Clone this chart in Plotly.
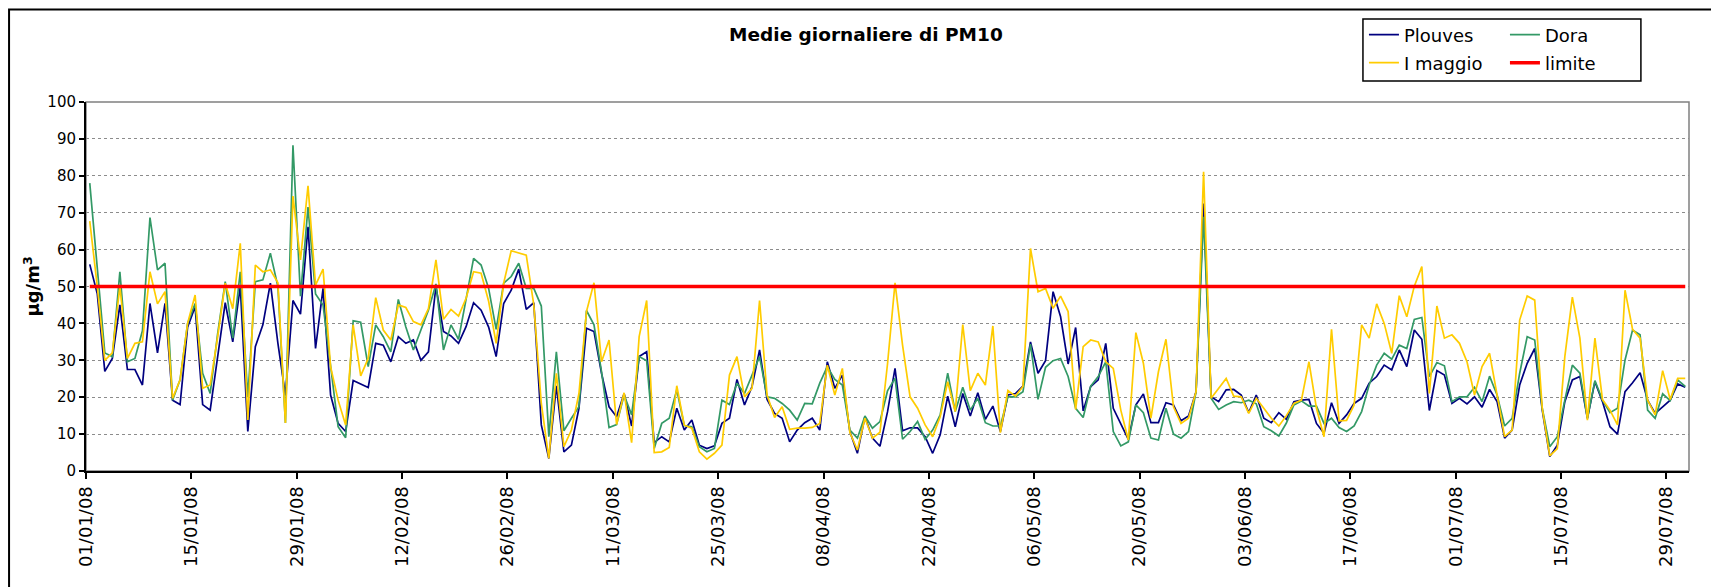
import pandas as pd
import plotly.graph_objects as go

# ── Data: daily PM10 means, 01/01/2008 → 31/07/2008 ──────────
DATES = pd.date_range("2008-01-01", "2008-07-31", freq="D") + pd.Timedelta(hours=12)

PLOUVES = [
    56, 48, 27, 30.5, 45, 27.5, 27.5, 23.3, 45.4, 32, 45.4, 19.2, 18, 39, 44.5, 18, 16.5, 31.4, 45.6, 35,
    50, 10.7, 33.7, 39.6, 50.9, 34.6, 20.5, 46.2, 42.5, 66.2, 33.2, 49.5, 20.6, 12.9, 10.7, 24.5, 23.6, 22.6, 34.6, 34.1,
    29.6, 36.4, 34.6, 35.5, 30, 32.3, 50, 37.8, 36.6, 34.6, 39.1, 45.6, 43.6, 39, 31, 45.4, 49, 54.7, 43.8, 45.6,
    12.5, 3.4, 23.1, 5.2, 7, 17, 38.7, 37.8, 26.5, 17.4, 14.7, 21, 12.2, 31, 32.3, 7.7, 9.3, 7.9, 17, 11.1,
    13.8, 7, 6.1, 6.8, 12.9, 14.3, 24.8, 17.9, 22.9, 32.8, 19.4, 15.6, 14.3, 7.9, 11.1, 13.1, 14.3, 11.1, 29.6, 22.4,
    26, 10.7, 4.8, 14.7, 8.9, 6.7, 16, 27.8, 10.9, 11.7, 11.7, 9.3, 4.8, 9.8, 20.3, 12, 21, 14.9, 21.2, 14,
    17.6, 10.7, 20.6, 21, 23, 35, 26.5, 29.9, 48.6, 41.8, 29, 38.9, 16.3, 22.9, 24.7, 34.6, 17, 12.9, 8.6, 17.9,
    20.9, 13.1, 13.1, 18.5, 17.9, 13.6, 14.9, 21.5, 72.5, 20.1, 18.8, 22, 22.1, 20.6, 15.8, 20.6, 14.3, 13.1, 15.8, 14,
    18.8, 19.2, 19.4, 12.9, 10.2, 18.5, 12.9, 15.2, 18.3, 19.7, 23.8, 25.6, 28.7, 27.4, 32.8, 28.3, 38.2, 35.7, 16.4, 27.2,
    26, 18.3, 19.7, 18.2, 20.1, 17.3, 22.1, 18.8, 8.9, 11.1, 23.3, 29.2, 33.2, 16.5, 3.9, 7, 18.8, 24.7, 25.6, 14.3,
    24.2, 18.8, 12, 10, 21.5, 23.9, 26.6, 19.2, 15.6, 17.4, 19.2, 23.6, 22.7,
]

DORA = [
    78, 55, 32, 31, 54, 29.6, 30.5, 38, 68.7, 54.5, 56.3, 19.2, 24.7, 40, 45.4, 26.5, 21, 37.3, 51.3, 36,
    54, 20, 51.3, 51.8, 59, 50, 13, 88.3, 47.4, 71.5, 48, 45, 28.3, 12, 9, 40.7, 40.3, 28.3, 39.6, 36.4,
    32.3, 46.5, 39, 32.8, 38.2, 43.6, 50.7, 32.8, 39.6, 35.7, 46.5, 57.6, 55.8, 49.5, 38.4, 50.9, 52.7, 56.3, 49.5, 49.5,
    44.7, 9.3, 32.3, 10.9, 14.3, 17.4, 43.5, 39.6, 26.9, 11.8, 12.6, 20.6, 15.2, 31, 29.9, 6.1, 12.9, 14.3, 22, 12.3,
    12, 6.6, 5.2, 6.1, 19.2, 18, 23.8, 21, 26, 31, 20.1, 19.7, 18.3, 16.5, 13.8, 18.3, 18.2, 23.8, 28.3, 24.8,
    23.3, 11.1, 8.9, 14.9, 11.6, 13.4, 21.7, 25.1, 8.6, 10.7, 13.4, 8.6, 11.1, 15.2, 26.5, 16.1, 22.7, 16.5, 19.7, 13.1,
    12.2, 12.2, 20.1, 20.1, 21.5, 34.4, 19.4, 28.1, 29.9, 30.5, 25.6, 17, 14.5, 23, 25.6, 29.6, 10.7, 6.8, 7.9, 17.9,
    15.8, 8.9, 8.4, 17, 10, 8.9, 10.7, 21.5, 68.9, 19.7, 16.7, 17.9, 18.8, 18.5, 19.2, 18.2, 12, 10.9, 9.5, 13,
    17.9, 19, 17.6, 17.6, 12.9, 14.3, 11.8, 10.7, 12.2, 16.1, 23.3, 28.7, 31.9, 30.3, 34.1, 33.2, 41.1, 41.6, 25.6, 29.4,
    28.5, 18.8, 20.1, 20.1, 22.7, 18.8, 25.7, 20.6, 12.2, 14.3, 26.5, 36.4, 35.5, 17, 6.6, 9.3, 19.2, 28.7, 26.5, 14.3,
    24.5, 19.2, 15.8, 17, 30.1, 38.2, 36.9, 16.5, 14.3, 20.9, 19.1, 24.7, 22.9,
]

I_MAGGIO = [
    67.7, 50, 30, 32, 50, 30.5, 34.6, 35, 54, 45.3, 48.6, 19.7, 24.7, 40, 47.7, 22.4, 23.3, 36.4, 50.9, 44,
    61.7, 13.8, 55.8, 54, 54.5, 51, 13, 74.5, 57.2, 77.3, 50.4, 54.7, 28.3, 19.2, 12.5, 39.6, 25.8, 30.5, 47, 38.2,
    35.5, 45, 44.3, 40.5, 39.6, 44, 57.2, 41.1, 43.8, 42, 46.8, 54, 53.6, 46, 34.6, 50.9, 59.7, 59.2, 58.5, 45,
    18.3, 3.4, 26.5, 6.6, 11.1, 21, 43.2, 51, 29.6, 35.5, 12.6, 21.2, 7.7, 36.4, 46.2, 5, 5.2, 6.4, 23.1, 12.4,
    11.6, 5.2, 3.2, 4.8, 7, 26, 31, 20.1, 22.4, 46.2, 20.6, 14.5, 17.4, 11.3, 11.6, 11.6, 11.8, 12.9, 28.7, 20.6,
    27.8, 10.4, 5.7, 14.3, 8.9, 10.5, 29, 51, 34.1, 20.1, 17, 12.5, 9.3, 14.7, 24.2, 16.1, 39.7, 21.8, 26.5, 23.3,
    39.3, 10.4, 21.8, 20.3, 22.9, 60.3, 48.6, 49.5, 44.1, 47.4, 43.2, 16.7, 33.7, 35.5, 35, 29.6, 27.8, 16.5, 8.4, 37.5,
    29.2, 14.3, 26.9, 35.7, 17.4, 12.9, 14.3, 21.5, 81.1, 19.7, 22.4, 25.1, 20.3, 20.1, 15.6, 19.7, 17, 14.3, 12.2, 15,
    18.3, 19.2, 29.6, 17, 9.3, 38.4, 13.6, 13.7, 17.9, 39.6, 36, 45.3, 40, 31.9, 47.5, 41.8, 50.1, 55.4, 21, 44.7,
    36, 36.9, 34.6, 29.6, 20.6, 28.3, 31.9, 20.6, 9.3, 11.1, 40.9, 47.4, 46.3, 17, 4.1, 6.1, 31, 47.1, 36, 13.8,
    36, 19.4, 16.5, 12.5, 49, 38.4, 36, 19.2, 15.2, 27.2, 19.4, 25.1, 25.1,
]

LIMITE = 50

# ── Style ─────────────────────────────────────────────────────
FONT = dict(family="DejaVu Sans, Verdana, sans-serif", size=15, color="black")
C = dict(plouves="#000080", dora="#339966", maggio="#FFCC00", limite="#FF0000")
GRID = "#8c8c8c"

fig = go.Figure()
fig.add_trace(go.Scatter(x=DATES, y=PLOUVES, name="Plouves", mode="lines", legend="legend",
                         line=dict(color=C["plouves"], width=1.7)))
fig.add_trace(go.Scatter(x=DATES, y=DORA, name="Dora", mode="lines", legend="legend",
                         line=dict(color=C["dora"], width=1.7)))
fig.add_trace(go.Scatter(x=DATES, y=I_MAGGIO, name="I maggio", mode="lines", legend="legend2",
                         line=dict(color=C["maggio"], width=1.7)))
fig.add_trace(go.Scatter(x=DATES, y=[LIMITE] * len(DATES), name="limite", mode="lines", legend="legend2",
                         line=dict(color=C["limite"], width=3.5)))

# plot-area frame (grey), legend box and outer chart frame (black)
fig.add_shape(type="rect", xref="paper", yref="paper", x0=0, x1=1, y0=0, y1=1,
              line=dict(color="#808080", width=1.5), layer="below")
fig.add_shape(type="rect", xref="paper", yref="paper", x0=0.7966, x1=0.970, y0=1.057, y1=1.225,
              line=dict(color="black", width=1.5))
fig.add_shape(type="rect", xref="paper", yref="paper", x0=-0.0480, x1=1.022, y0=-0.34, y1=1.251,
              line=dict(color="black", width=2))

fig.add_annotation(text="<b>µg/m<sup>3</sup></b>", xref="paper", yref="paper",
                   x=-0.043, y=0.5, textangle=-90, showarrow=False,
                   font=dict(size=18))

fig.update_xaxes(
    type="date", range=["2008-01-01", "2008-08-01"],
    tick0="2008-01-01", dtick=14 * 86400000, tickformat="%d/%m/%y",
    tickangle=-90, ticks="outside", ticklen=6, tickcolor="black", tickwidth=1.5,
    showline=True, linecolor="black", linewidth=2, showgrid=False,
    tickfont=dict(size=18),
)
fig.update_yaxes(
    range=[0, 100], dtick=10, ticks="outside", ticklen=5, tickcolor="black", tickwidth=1.5,
    showline=True, linecolor="black", linewidth=2,
    showgrid=True, gridcolor=GRID, griddash="dot", gridwidth=1,
    tickfont=dict(size=15), zeroline=False,
)

# page body has an 8px margin, so the figure is laid out 8px up/left to compensate
LEG = dict(orientation="h", xref="container", yref="container",
           x=0.7888, xanchor="left", yanchor="middle",
           borderwidth=0, bgcolor="rgba(0,0,0,0)",
           entrywidth=96, entrywidthmode="pixels", font=dict(size=18))

fig.update_layout(
    width=1719, height=587,
    margin=dict(l=78, r=38, t=94, b=124, autoexpand=False),
    paper_bgcolor="white", plot_bgcolor="white", font=FONT,
    title=dict(text="<b>Medie giornaliere di PM10</b>", x=0.4991, xanchor="center",
               y=0.954, yanchor="middle", font=dict(size=18.5)),
    legend=dict(LEG, y=0.954),
    legend2=dict(LEG, y=0.9063),
    showlegend=True,
)

fig.write_html("out.html")
